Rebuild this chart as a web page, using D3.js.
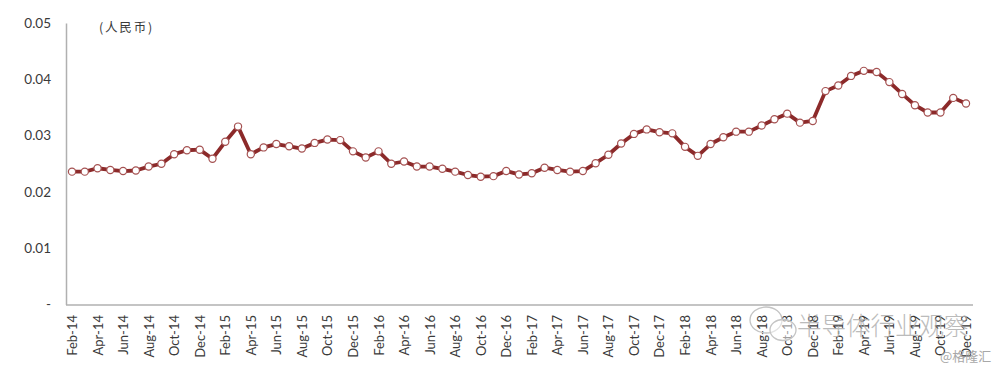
<!DOCTYPE html>
<html><head><meta charset="utf-8">
<script src="https://cdn.jsdelivr.net/npm/d3@7"></script>
<style>html,body{margin:0;padding:0;background:#fff}svg{display:block}text{font-family:Lato,"Noto Sans",sans-serif}</style>
</head><body><svg id="c" width="1000" height="369"></svg>
<script>
const startYear = 2014, startMonth = 1;
const monthNames = ["Jan","Feb","Mar","Apr","May","Jun","Jul","Aug","Sep","Oct","Nov","Dec"];
const values = [.0236,.0236,.0242,.0239,.0237,.0238,.0245,.0250,.0267,.0274,.0275,.0259,.0289,.0316,.0267,.0279,.0285,.0281,.0277,.0287,.0293,.0292,.0272,.0261,.0272,.0250,.0254,.0245,.0245,.0241,.0236,.0230,.0227,.0228,.0237,.0231,.0233,.0243,.0239,.0236,.0237,.0251,.0266,.0286,.0303,.0311,.0306,.0304,.0280,.0264,.0285,.0297,.0307,.0307,.0318,.0329,.0339,.0323,.0326,.0379,.0389,.0406,.0415,.0413,.0395,.0374,.0354,.0341,.0341,.0367,.0357];
const yTicks = [0,.01,.02,.03,.04,.05];
const unitLabel = "(人民币)";
const watermark = "半导体行业观察";
const credit = "@格隆汇";

const labels = values.map((_,i)=>{const m=(startMonth+i)%12,y=startYear+Math.floor((startMonth+i)/12);return monthNames[m]+"-"+String(y).slice(2)});
const svg = d3.select("#c");
const x = d3.scalePoint().domain(labels).range([72,966]);
const y = d3.scaleLinear().domain([0,.05]).range([304.5,23]);

const yAxis = d3.axisLeft(y).tickValues(yTicks).tickSize(0).tickPadding(15)
  .tickFormat(d=>d===0?"-":d3.format(".2f")(d));
const gy = svg.append("g").attr("transform","translate(66,0)").call(yAxis);
gy.select(".domain").attr("stroke","#b0b0b0").attr("stroke-width",1.5);
gy.selectAll("text").attr("font-size",13.5).attr("fill","#3a3a3a");

const xAxis = d3.axisBottom(x).tickValues(labels.filter((_,i)=>i%2===0)).tickSize(0).tickPadding(0);
const gx = svg.append("g").attr("transform","translate(0,305)").call(xAxis);
gx.select(".domain").attr("d","M66,0H973").attr("stroke","#b0b0b0").attr("stroke-width",1.5);
gx.selectAll("text").attr("font-size",13).attr("fill","#3a3a3a")
  .attr("text-anchor","end").attr("dy",null)
  .attr("transform","translate(4.5,10) rotate(-90)").attr("x",0).attr("y",0);

const line = d3.line().x((d,i)=>x(labels[i])).y(d=>y(d));
svg.append("path").datum(values).attr("d",line).attr("fill","none")
  .attr("stroke","#8c2a2a").attr("stroke-width",3.8).attr("stroke-linejoin","round");
svg.selectAll("circle.p").data(values).join("circle").attr("class","p")
  .attr("cx",(d,i)=>x(labels[i])).attr("cy",d=>y(d)).attr("r",3.6)
  .attr("fill","#fff").attr("stroke","#a55252").attr("stroke-width",1.2);

svg.append("text").attr("x",99).attr("y",32).attr("font-size",12.5).attr("letter-spacing",1.8)
  .attr("fill","#3a3a3a").style("font-family",'"Noto Sans CJK SC"').text(unitLabel);

const wm = svg.append("g").attr("fill","none").attr("stroke","#c4c4c4").attr("stroke-width",1.3);
wm.append("ellipse").attr("cx",766).attr("cy",320).attr("rx",16).attr("ry",13);
wm.append("ellipse").attr("cx",783).attr("cy",330).attr("rx",13).attr("ry",10.5).attr("fill","#fff").attr("fill-opacity",.5);
svg.append("text").attr("x",797).attr("y",335).attr("font-size",24.5).attr("fill","#b0b0b0").attr("opacity",.85)
  .style("font-family",'"Noto Sans CJK SC"').style("font-weight",300).text(watermark);
svg.append("text").attr("x",940).attr("y",361).attr("font-size",13).attr("fill","#a8a8a8")
  .style("font-family",'"Noto Sans CJK SC"').text(credit);
</script></body></html>
